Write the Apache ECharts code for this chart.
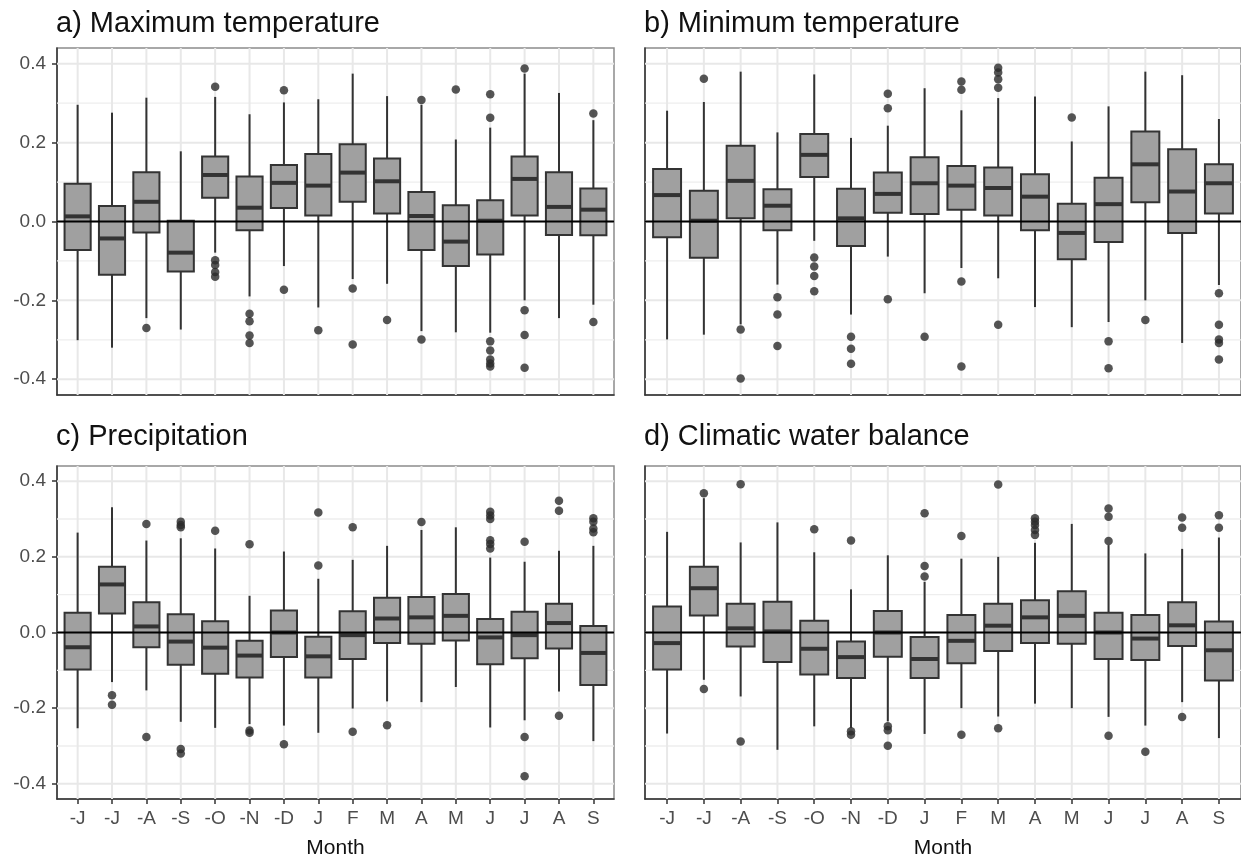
<!DOCTYPE html>
<html><head><meta charset="utf-8">
<script src="https://cdn.jsdelivr.net/npm/echarts@6/dist/echarts.min.js"></script>
<style>html,body{margin:0;padding:0;background:#fff}#c{width:1241px;height:860px}</style>
</head><body><div id="c"></div>
<script>
const months = ['-J','-J','-A','-S','-O','-N','-D','J','F','M','A','M','J','J','A','S'];
const yMajorTicks = [-0.4, -0.2, 0, 0.2, 0.4];
const yMinorTicks = [-0.3, -0.1, 0.1, 0.3];
const refLines = [0];

// box rows: [low whisker, Q1, median, Q3, high whisker]
const tmaxBoxes = [
  [-0.301,-0.072, 0.013, 0.096,0.296],[-0.320,-0.135,-0.043, 0.039,0.276],[-0.245,-0.028, 0.050,0.125,0.314],[-0.274,-0.127,-0.079,0.002,0.178],
  [-0.079, 0.060, 0.118, 0.165,0.316],[-0.190,-0.022, 0.035, 0.114,0.272],[-0.113, 0.034, 0.098,0.143,0.302],[-0.218, 0.015, 0.091,0.171,0.310],
  [-0.146, 0.050, 0.124, 0.196,0.375],[-0.158, 0.020, 0.102, 0.160,0.318],[-0.278,-0.072, 0.014,0.075,0.296],[-0.281,-0.113,-0.051,0.041,0.208],
  [-0.282,-0.084, 0.002, 0.054,0.238],[-0.200, 0.015, 0.108, 0.165,0.375],[-0.245,-0.034, 0.037,0.125,0.326],[-0.211,-0.035, 0.030,0.084,0.257]
];
const tmaxOutliers = [
  [2,-0.270],[4,0.342],[4,-0.098],[4,-0.110],[4,-0.128],[4,-0.140],[5,-0.234],[5,-0.253],[5,-0.289],[5,-0.308],
  [6,0.333],[6,-0.173],[7,-0.276],[8,-0.170],[8,-0.312],[9,-0.250],[10,0.308],[10,-0.299],[11,0.335],
  [12,0.323],[12,0.263],[12,-0.304],[12,-0.327],[12,-0.350],[12,-0.360],[12,-0.368],
  [13,0.388],[13,-0.225],[13,-0.288],[13,-0.371],[15,0.274],[15,-0.255]
];
const tminBoxes = [
  [-0.299,-0.040, 0.067,0.133,0.281],[-0.287,-0.092, 0.002,0.078,0.303],[-0.261, 0.008, 0.103,0.192,0.380],[-0.160,-0.022, 0.040,0.082,0.226],
  [-0.049, 0.113, 0.169,0.222,0.373],[-0.236,-0.062, 0.008,0.083,0.212],[-0.089, 0.022, 0.070,0.124,0.243],[-0.182, 0.019, 0.097,0.163,0.338],
  [-0.118, 0.030, 0.091,0.141,0.282],[-0.144, 0.015, 0.085,0.137,0.313],[-0.217,-0.022, 0.063,0.120,0.317],[-0.268,-0.096,-0.029,0.045,0.203],
  [-0.255,-0.052, 0.044,0.111,0.292],[-0.200, 0.049, 0.145,0.228,0.380],[-0.308,-0.029, 0.076,0.183,0.371],[-0.161, 0.020, 0.097,0.145,0.260]
];
const tminOutliers = [
  [1,0.362],[2,-0.274],[2,-0.398],[3,-0.192],[3,-0.236],[3,-0.316],[4,-0.091],[4,-0.114],[4,-0.138],[4,-0.177],
  [5,-0.292],[5,-0.323],[5,-0.361],[6,0.324],[6,0.287],[6,-0.197],[7,-0.292],[8,0.355],[8,0.334],[8,-0.152],[8,-0.368],
  [9,0.390],[9,0.378],[9,0.361],[9,0.339],[9,-0.262],[11,0.264],[12,-0.304],[12,-0.372],[13,-0.250],
  [15,-0.182],[15,-0.262],[15,-0.299],[15,-0.308],[15,-0.350]
];
const precBoxes = [
  [-0.253,-0.098,-0.039, 0.052,0.264],[-0.131, 0.050, 0.127, 0.174,0.331],[-0.153,-0.039, 0.016, 0.080,0.243],[-0.236,-0.085,-0.024, 0.048,0.249],
  [-0.252,-0.109,-0.040, 0.030,0.222],[-0.242,-0.119,-0.061,-0.022,0.097],[-0.246,-0.065, 0.000, 0.058,0.214],[-0.265,-0.119,-0.063,-0.011,0.142],
  [-0.201,-0.070,-0.007, 0.056,0.192],[-0.182,-0.028, 0.037, 0.092,0.229],[-0.184,-0.030, 0.040, 0.094,0.271],[-0.144,-0.021, 0.044, 0.102,0.278],
  [-0.251,-0.084,-0.013, 0.036,0.198],[-0.232,-0.068,-0.007, 0.055,0.187],[-0.156,-0.042, 0.025, 0.076,0.216],[-0.287,-0.139,-0.054, 0.017,0.229]
];
const precOutliers = [
  [1,-0.166],[1,-0.191],[2,0.287],[2,-0.276],[3,0.293],[3,0.284],[3,0.278],[3,-0.308],[3,-0.320],[4,0.269],
  [5,0.233],[5,-0.259],[5,-0.265],[6,-0.295],[7,0.317],[7,0.177],[8,0.278],[8,-0.262],[9,-0.245],[10,0.292],
  [12,0.319],[12,0.309],[12,0.300],[12,0.244],[12,0.234],[12,0.222],[13,0.240],[13,-0.276],[13,-0.380],
  [14,0.348],[14,0.322],[14,-0.220],[15,0.302],[15,0.293],[15,0.275],[15,0.265]
];
const cwbBoxes = [
  [-0.267,-0.098,-0.028, 0.069,0.266],[-0.125, 0.045, 0.117, 0.174,0.355],[-0.169,-0.037, 0.011, 0.076,0.238],[-0.310,-0.078, 0.003, 0.081,0.291],
  [-0.248,-0.111,-0.043, 0.031,0.212],[-0.252,-0.120,-0.065,-0.024,0.114],[-0.235,-0.064, 0.000, 0.057,0.204],[-0.268,-0.120,-0.070,-0.012,0.134],
  [-0.200,-0.081,-0.022, 0.046,0.195],[-0.222,-0.049, 0.018, 0.076,0.200],[-0.188,-0.028, 0.040, 0.085,0.237],[-0.200,-0.030, 0.044, 0.109,0.287],
  [-0.223,-0.070, 0.000, 0.052,0.231],[-0.246,-0.073,-0.016, 0.046,0.209],[-0.184,-0.036, 0.019, 0.080,0.221],[-0.279,-0.127,-0.047, 0.029,0.251]
];
const cwbOutliers = [
  [1,0.368],[1,-0.149],[2,0.392],[2,-0.288],[4,0.273],[5,0.243],[5,-0.261],[5,-0.270],[6,-0.248],[6,-0.258],[6,-0.299],
  [7,0.315],[7,0.176],[7,0.148],[8,0.255],[8,-0.270],[9,0.391],[9,-0.253],
  [10,0.302],[10,0.293],[10,0.284],[10,0.271],[10,0.258],[12,0.328],[12,0.306],[12,0.242],[12,-0.273],[13,-0.315],
  [14,0.304],[14,0.277],[14,-0.223],[15,0.310],[15,0.277]
];

const FONT = '"Liberation Sans", Arial, sans-serif';
const panels = [
  {title:'a) Maximum temperature', boxes:tmaxBoxes, outliers:tmaxOutliers, grid:{left:57, top:48, width:557, height:347}, showY:true, showX:false, titlePos:[56,9]},
  {title:'b) Minimum temperature', boxes:tminBoxes, outliers:tminOutliers, grid:{left:645, top:48, width:597, height:347}, showY:false, showX:false, titlePos:[644,9]},
  {title:'c) Precipitation', boxes:precBoxes, outliers:precOutliers, grid:{left:57, top:466, width:557, height:333}, showY:true, showX:true, titlePos:[56,422]},
  {title:'d) Climatic water balance', boxes:cwbBoxes, outliers:cwbOutliers, grid:{left:645, top:466, width:597, height:333}, showY:false, showX:true, titlePos:[644,422]}
];

const xIdx = months.map((m, i) => i);

function renderGuide(params, api) {
  const cs = params.coordSys;
  const t = api.value(0), v = api.value(1);
  if (t === 2) {
    const x = api.coord([v, 0])[0];
    return {type:'line', shape:{x1:x, y1:cs.y, x2:x, y2:cs.y + cs.height}, style:{stroke:'#e8e8e8', lineWidth:2}};
  }
  const y = api.coord([0, v])[1];
  let style;
  if (t === 0) style = {stroke:'#e8e8e8', lineWidth:2};
  else if (t === 1) style = {stroke:'#eeeeee', lineWidth:1.3};
  else style = {stroke:'#000', lineWidth:1.8};
  return {type:'line', shape:{x1:cs.x, y1:y, x2:cs.x + cs.width, y2:y}, style:style};
}

function renderBox(params, api) {
  const x = api.value(0);
  const lo = api.coord([x, api.value(1)]);
  const q1 = api.coord([x, api.value(2)]);
  const md = api.coord([x, api.value(3)]);
  const q3 = api.coord([x, api.value(4)]);
  const hi = api.coord([x, api.value(5)]);
  const w = api.size([0.76, 0])[0];
  const cx = lo[0];
  const st = {stroke:'#333333', lineWidth:2};
  return {type:'group', children:[
    {type:'line', shape:{x1:cx, y1:hi[1], x2:cx, y2:q3[1]}, style:st},
    {type:'line', shape:{x1:cx, y1:q1[1], x2:cx, y2:lo[1]}, style:st},
    {type:'rect', shape:{x:cx - w/2, y:q3[1], width:w, height:q1[1] - q3[1]}, style:{fill:'#a0a0a0', stroke:'#333333', lineWidth:2}},
    {type:'line', shape:{x1:cx - w/2, y1:md[1], x2:cx + w/2, y2:md[1]}, style:{stroke:'#333333', lineWidth:4}}
  ]};
}

const option = {
  backgroundColor:'#ffffff',
  animation:false,
  title:[], grid:[], xAxis:[], yAxis:[], series:[]
};

panels.forEach((p, i) => {
  option.title.push({text:p.title, left:p.titlePos[0], top:p.titlePos[1], padding:0,
    textStyle:{fontFamily:FONT, fontSize:29, fontWeight:'normal', color:'#111'}});
  option.grid.push(Object.assign({show:true, backgroundColor:'#fff', borderColor:'#8c8c8c', borderWidth:1.5}, p.grid));
  option.xAxis.push({
    gridIndex:i, type:'value', min:-0.6, max:15.6,
    axisLine:{show:true, onZero:false, lineStyle:{color:'#333', width:1.5}},
    splitLine:{show:false},
    axisTick:{show:p.showX, customValues:xIdx, length:5, lineStyle:{color:'#333', width:1.5}},
    axisLabel:{show:p.showX, customValues:xIdx, formatter:(v) => months[Math.round(v)], color:'#4d4d4d', fontSize:19, margin:10, fontFamily:FONT},
    name:p.showX ? 'Month' : '', nameLocation:'middle', nameGap:39,
    nameTextStyle:{fontFamily:FONT, fontSize:21, color:'#111'}
  });
  option.yAxis.push({
    gridIndex:i, type:'value', min:-0.44, max:0.44,
    axisLine:{show:true, onZero:false, lineStyle:{color:'#333', width:1.5}},
    splitLine:{show:false},
    axisTick:{show:p.showY, customValues:yMajorTicks, length:5, lineStyle:{color:'#333', width:1.5}},
    axisLabel:{show:p.showY, customValues:yMajorTicks, formatter:(v) => v.toFixed(1), color:'#4d4d4d', fontSize:19, margin:11, fontFamily:FONT}
  });
  const guides = []
    .concat(yMajorTicks.map(v => [0, v]))
    .concat(yMinorTicks.map(v => [1, v]))
    .concat(xIdx.map(v => [2, v]));
  option.series.push({type:'custom', xAxisIndex:i, yAxisIndex:i, silent:true, z:1, renderItem:renderGuide, data:guides});
  option.series.push({type:'custom', xAxisIndex:i, yAxisIndex:i, silent:true, z:3, renderItem:renderBox,
    encode:{x:0, y:[1,2,3,4,5]}, data:p.boxes.map((b, k) => [k].concat(b))});
  option.series.push({type:'scatter', xAxisIndex:i, yAxisIndex:i, silent:true, z:4, symbol:'circle', symbolSize:8.5,
    itemStyle:{color:'#2b2b2b'}, data:p.outliers});
  option.series.push({type:'custom', xAxisIndex:i, yAxisIndex:i, silent:true, z:5, renderItem:renderGuide,
    data:refLines.map(v => [3, v])});
});

const chart = echarts.init(document.getElementById('c'), null, {renderer:'canvas'});
chart.setOption(option);
</script>
</body></html>
